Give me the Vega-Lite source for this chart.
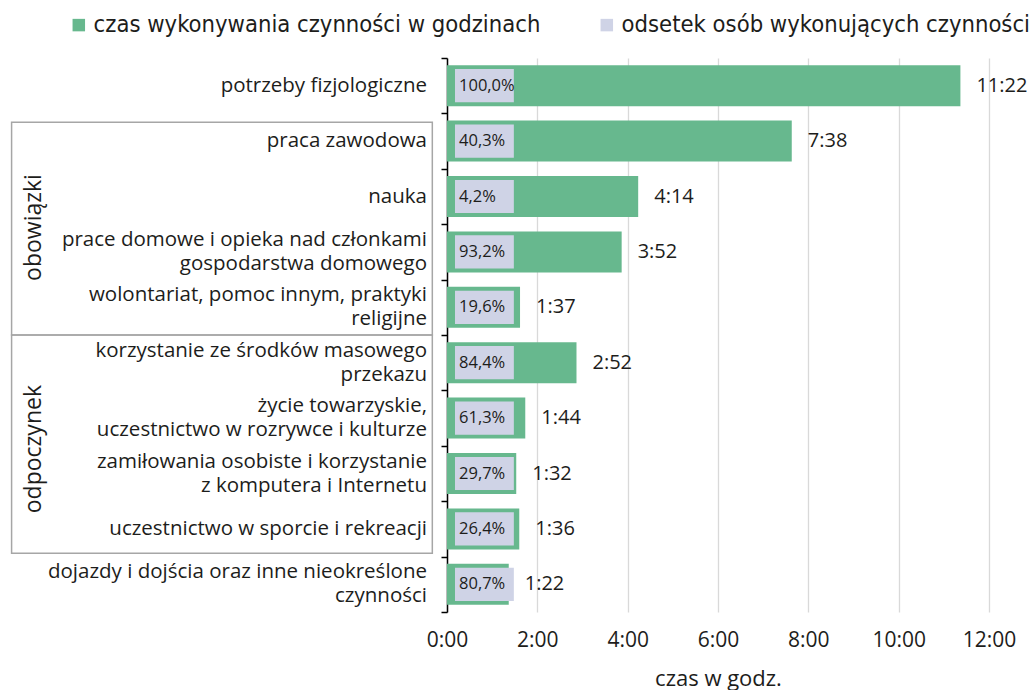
{
  "$schema": "https://vega.github.io/schema/vega-lite/v6.json",
  "autosize": {"type": "none"},
  "padding": {"left": 447, "top": 58, "right": 46, "bottom": 78},
  "width": 542,
  "height": 554,
  "datasets": {
    "main": [
      {"cat": "potrzeby fizjologiczne", "hours": 11.367, "time": "11:22", "pct": "100,0%"},
      {"cat": "praca zawodowa", "hours": 7.633, "time": "7:38", "pct": "40,3%"},
      {"cat": "nauka", "hours": 4.233, "time": "4:14", "pct": "4,2%"},
      {"cat": "prace domowe i opieka nad członkami|gospodarstwa domowego", "hours": 3.867, "time": "3:52", "pct": "93,2%"},
      {"cat": "wolontariat, pomoc innym, praktyki|religijne", "hours": 1.617, "time": "1:37", "pct": "19,6%"},
      {"cat": "korzystanie ze środków masowego|przekazu", "hours": 2.867, "time": "2:52", "pct": "84,4%"},
      {"cat": "życie towarzyskie,|uczestnictwo w rozrywce i kulturze", "hours": 1.733, "time": "1:44", "pct": "61,3%"},
      {"cat": "zamiłowania osobiste i korzystanie|z komputera i Internetu", "hours": 1.533, "time": "1:32", "pct": "29,7%"},
      {"cat": "uczestnictwo w sporcie i rekreacji", "hours": 1.6, "time": "1:36", "pct": "26,4%"},
      {"cat": "dojazdy i dojścia oraz inne nieokreślone|czynności", "hours": 1.367, "time": "1:22", "pct": "80,7%"}
    ],
    "groups": [
      {"group": "obowiązki", "first": "praca zawodowa", "last": "wolontariat, pomoc innym, praktyki|religijne", "mid": "prace domowe i opieka nad członkami|gospodarstwa domowego"},
      {"group": "odpoczynek", "first": "korzystanie ze środków masowego|przekazu", "last": "uczestnictwo w sporcie i rekreacji", "mid": "zamiłowania osobiste i korzystanie|z komputera i Internetu"}
    ]
  },
  "config": {
    "view": {"stroke": null},
    "font": "Open Sans",
    "text": {"font": "Open Sans", "color": "#1d1d1b"},
    "axisX": {
      "grid": true, "gridColor": "#d9d9d9", "gridWidth": 1.3,
      "domain": false, "ticks": false, "labelFlush": false,
      "labelPadding": 17, "labelFontSize": 21, "labelColor": "#1d1d1b", "labelFont": "Open Sans",
      "titleFontSize": 22, "titleFontWeight": "normal", "titleColor": "#1d1d1b", "titleFont": "Open Sans", "titlePadding": 18
    },
    "axisY": {
      "labels": false,
      "tickBand": "extent", "tickSize": 6, "tickColor": "#000000", "tickWidth": 1.5,
      "domainColor": "#000000", "domainWidth": 1.5, "grid": false
    }
  },
  "layer": [
    {
      "data": {"name": "main"},
      "mark": {"type": "bar", "height": {"band": 0.74}, "color": "#67b88e"},
      "encoding": {
        "x": {
          "field": "hours", "type": "quantitative",
          "scale": {"domain": [0, 12], "nice": false, "zero": true},
          "axis": {
            "values": [0, 2, 4, 6, 8, 10, 12],
            "labelExpr": "datum.value + ':00'",
            "title": "czas w godz."
          }
        },
        "y": {
          "field": "cat", "type": "nominal",
          "scale": {
            "domain": [
              "potrzeby fizjologiczne", "praca zawodowa", "nauka",
              "prace domowe i opieka nad członkami|gospodarstwa domowego",
              "wolontariat, pomoc innym, praktyki|religijne",
              "korzystanie ze środków masowego|przekazu",
              "życie towarzyskie,|uczestnictwo w rozrywce i kulturze",
              "zamiłowania osobiste i korzystanie|z komputera i Internetu",
              "uczestnictwo w sporcie i rekreacji",
              "dojazdy i dojścia oraz inne nieokreślone|czynności"
            ],
            "paddingInner": 0, "paddingOuter": 0
          },
          "axis": {"title": null}
        },
        "color": {
          "datum": "czas wykonywania czynności w godzinach",
          "scale": {"domain": ["czas wykonywania czynności w godzinach", "odsetek osób wykonujących czynności"], "range": ["#67b88e", "#cfd3e6"]},
          "legend": {
            "title": null, "orient": "none", "legendX": -380, "legendY": -45,
            "direction": "horizontal", "symbolType": "square", "symbolSize": 156, "symbolStrokeWidth": 0,
            "labelFontSize": 23.6, "labelFont": "DejaVu Sans Condensed, Roboto", "labelColor": "#1d1d1b", "labelLimit": 600,
            "columnPadding": 54, "labelOffset": 3, "padding": 0
          }
        }
      }
    },
    {
      "data": {"name": "main"},
      "mark": {"type": "bar", "height": {"band": 0.6}},
      "encoding": {
        "x": {"datum": 0.177, "type": "quantitative", "axis": {"title": "czas w godz."}},
        "x2": {"datum": 1.48},
        "y": {"field": "cat", "type": "nominal", "axis": {"title": null}},
        "color": {"datum": "odsetek osób wykonujących czynności"}
      }
    },
    {
      "data": {"name": "main"},
      "mark": {"type": "text", "align": "left", "baseline": "middle", "fontSize": 16.5},
      "encoding": {
        "x": {"datum": 0.266, "type": "quantitative", "axis": {"title": "czas w godz."}},
        "y": {"field": "cat", "type": "nominal", "axis": {"title": null}},
        "text": {"field": "pct"}
      }
    },
    {
      "data": {"name": "main"},
      "mark": {"type": "text", "align": "left", "baseline": "middle", "fontSize": 20, "dx": 16},
      "encoding": {
        "x": {"field": "hours", "type": "quantitative", "axis": {"title": "czas w godz."}},
        "y": {"field": "cat", "type": "nominal", "axis": {"title": null}},
        "text": {"field": "time"}
      }
    },
    {
      "data": {"name": "main"},
      "mark": {
        "type": "text", "align": "right", "fontSize": 20.5, "lineHeight": 24, "lineBreak": "|",
        "baseline": {"expr": "indexof(datum.cat, '|') >= 0 ? 'line-bottom' : 'middle'"}
      },
      "encoding": {
        "x": {"datum": -0.443, "type": "quantitative", "axis": {"title": "czas w godz."}},
        "y": {"field": "cat", "type": "nominal", "axis": {"title": null}},
        "text": {"field": "cat"}
      }
    },
    {
      "data": {"name": "groups"},
      "transform": [{"filter": "datum.group == 'obowiązki'"}],
      "mark": {"type": "rect", "fill": null, "stroke": "#a6a6a6", "strokeWidth": 1.5},
      "encoding": {
        "x": {"datum": -9.64, "type": "quantitative", "axis": {"title": "czas w godz."}},
        "x2": {"datum": -0.325},
        "y": {"field": "first", "type": "nominal", "bandPosition": 0.16, "axis": {"title": null}},
        "y2": {"field": "last", "bandPosition": 1}
      }
    },
    {
      "data": {"name": "groups"},
      "transform": [{"filter": "datum.group == 'odpoczynek'"}],
      "mark": {"type": "rect", "fill": null, "stroke": "#a6a6a6", "strokeWidth": 1.5},
      "encoding": {
        "x": {"datum": -9.64, "type": "quantitative", "axis": {"title": "czas w godz."}},
        "x2": {"datum": -0.325},
        "y": {"field": "first", "type": "nominal", "bandPosition": 0, "axis": {"title": null}},
        "y2": {"field": "last", "bandPosition": 0.94}
      }
    },
    {
      "data": {"name": "groups"},
      "mark": {"type": "text", "angle": 270, "align": "center", "baseline": "middle", "fontSize": 23},
      "encoding": {
        "x": {"datum": -9.15, "type": "quantitative", "axis": {"title": "czas w godz."}},
        "y": {"field": "mid", "type": "nominal", "bandPosition": 0.06, "axis": {"title": null}},
        "text": {"field": "group"}
      }
    }
  ]
}
